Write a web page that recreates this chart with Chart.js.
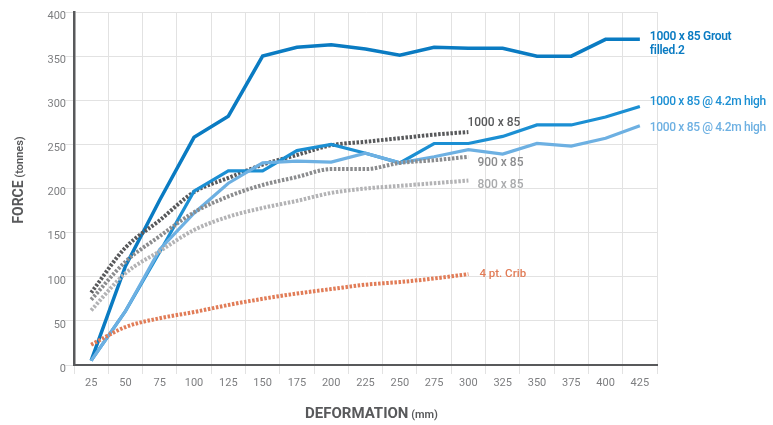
<!DOCTYPE html>
<html>
<head>
<meta charset="utf-8">
<script src="https://cdn.jsdelivr.net/npm/chart.js@4.4.1/dist/chart.umd.min.js"></script>
<style>
  html, body { margin: 0; padding: 0; background: #ffffff; }
  #wrap { width: 773px; height: 425px; }
</style>
</head>
<body>
<div id="wrap"><canvas id="c" width="773" height="425"></canvas></div>
<script>
// ---- data ----
const categories = [25, 50, 75, 100, 125, 150, 175, 200, 225, 250, 275, 300, 325, 350, 375, 400, 425];
const groutFilled = [5, 112, 187, 258, 282, 350, 360, 363, 358, 351, 360, 359, 359, 350, 350, 369, 369];
const high42a = [5, 61, 128, 197, 220, 220, 243, 250, 240, 229, 251, 251, 259, 272, 272, 281, 293];
const high42b = [5, 61, 131, 172, 206, 229, 231, 230, 240, 229, 236, 244, 239, 251, 248, 257, 271];
const d1000x85 = [82, 133, 164, 196, 212, 227, 238, 249, 253, 257, 261, 264];
const d900x85 = [74, 117, 146, 173, 191, 204, 213, 222, 222, 229, 232, 236];
const d800x85 = [62, 104, 129, 153, 168, 178, 186, 195, 200, 203, 206, 209];
const crib4pt = [23, 43, 53, 60, 68, 75, 81, 86, 91, 94, 98, 103];
const yTicks = [0, 50, 100, 150, 200, 250, 300, 350, 400];

const seriesLabels = {
  grout: ["1000 x 85 Grout", "filled.2"],
  highA: ["1000 x 85 @ 4.2m high"],
  highB: ["1000 x 85 @ 4.2m high"],
  d1000: ["1000 x 85"],
  d900: ["900 x 85"],
  d800: ["800 x 85"],
  crib: ["4 pt. Crib"]
};

const FONT = "Roboto, 'Liberation Sans', sans-serif";

const dotted = (data, color, name) => ({
  label: name, data, borderColor: color, backgroundColor: color,
  borderWidth: 4, borderDash: [2.5, 1.6], borderCapStyle: 'butt',
  pointRadius: 0, cubicInterpolationMode: 'monotone', fill: false
});
const solid = (data, color, name, w) => ({
  label: name, data, borderColor: color, backgroundColor: color,
  borderWidth: w, tension: 0, pointRadius: 0, fill: false,
  borderJoinStyle: 'miter', borderCapStyle: 'butt'
});

const datasets = [
  dotted(crib4pt, '#e17c57', 'crib'),
  dotted(d800x85, '#b3b3b5', 'd800'),
  dotted(d900x85, '#8b8c8e', 'd900'),
  solid(high42b, '#6db0e2', 'highB', 3.2),
  solid(high42a, '#1b8fd3', 'highA', 3.2),
  dotted(d1000x85, '#58595b', 'd1000'),
  solid(groutFilled, '#0a7bc2', 'grout', 3.5)
];

const labelSpecs = {
  grout: { dx: 10, dy: -2, color: '#0a7bc2', font: "600 12px " + FONT, ls: '-0.3px' },
  highA: { dx: 10, dy: -4, color: '#1b8fd3', font: "500 12px " + FONT, ls: '-0.35px' },
  highB: { dx: 10, dy: 2, color: '#6db0e2', font: "500 12px " + FONT, ls: '-0.35px' },
  d1000: { dx: -1, dy: -9, color: '#58595b', font: "500 12px " + FONT, ls: '0px' },
  d900: { dx: 9, dy: 6, color: '#8b8c8e', font: "500 12px " + FONT, ls: '0px' },
  d800: { dx: 9, dy: 4, color: '#a9aaac', font: "500 12px " + FONT, ls: '0px' },
  crib: { dx: 11, dy: 0, color: '#e17c57', font: "500 11.5px " + FONT, ls: '0px' }
};

const annotPlugin = {
  id: 'annot',
  afterDatasetsDraw(chart) {
    const ctx = chart.ctx;
    ctx.save();
    chart.data.datasets.forEach((ds, i) => {
      const spec = labelSpecs[ds.label];
      const meta = chart.getDatasetMeta(i);
      const last = meta.data[meta.data.length - 1];
      ctx.font = spec.font;
      ctx.fillStyle = spec.color;
      ctx.textAlign = 'left';
      ctx.textBaseline = 'middle';
      if ('letterSpacing' in ctx) ctx.letterSpacing = spec.ls;
      seriesLabels[ds.label].forEach((t, k) => {
        ctx.fillText(t, last.x + spec.dx, last.y + spec.dy + k * 14);
      });
    });
    if ('letterSpacing' in ctx) ctx.letterSpacing = '0px';
    // axis titles
    const ca = chart.chartArea;
    ctx.fillStyle = '#58595b';
    ctx.textBaseline = 'middle';
    // x title
    const xa = "DEFORMATION", xb = " (mm)";
    ctx.font = "bold 15px " + FONT;
    const wa = ctx.measureText(xa).width;
    ctx.font = "600 11px " + FONT;
    const wb = ctx.measureText(xb).width;
    let x0 = (ca.left + ca.right) / 2 + 6 - (wa + wb) / 2;
    ctx.textAlign = 'left';
    ctx.font = "bold 15px " + FONT;
    ctx.fillText(xa, x0, 414);
    ctx.font = "600 11px " + FONT;
    ctx.fillText(xb, x0 + wa, 415);
    // y title
    const ya = "FORCE", yb = " (tonnes)";
    ctx.save();
    ctx.translate(19, 180);
    ctx.rotate(-Math.PI / 2);
    ctx.font = "bold 14px " + FONT;
    const wya = ctx.measureText(ya).width;
    ctx.font = "600 11px " + FONT;
    const wyb = ctx.measureText(yb).width;
    const y0 = -(wya + wyb) / 2;
    ctx.font = "bold 14px " + FONT;
    ctx.fillText(ya, y0, 0);
    ctx.font = "600 11px " + FONT;
    ctx.fillText(yb, y0 + wya, 1);
    ctx.restore();
    ctx.restore();
  }
};

new Chart(document.getElementById('c'), {
  type: 'line',
  data: { labels: categories, datasets },
  options: {
    responsive: false,
    animation: false,
    devicePixelRatio: 1,
    layout: { padding: { top: 12, right: 116, left: 0, bottom: 0 } },
    plugins: { legend: { display: false }, tooltip: { enabled: false } },
    scales: {
      x: {
        type: 'category',
        offset: true,
        grid: { offset: true, color: '#e2e2e2', lineWidth: 1, tickLength: 9, drawTicks: true, tickColor: '#e2e2e2' },
        border: { color: '#58595b', width: 2 },
        ticks: { color: '#7d7e80', font: { family: FONT, size: 11 }, padding: 3, maxRotation: 0, autoSkip: false },
        afterFit(scale) { scale.height = 60; }
      },
      y: {
        min: 0, max: 400,
        afterBuildTicks(scale) { scale.ticks = yTicks.map(v => ({ value: v })); },
        grid: { color: '#e2e2e2', lineWidth: 1, tickLength: 9, tickColor: '#e2e2e2' },
        border: { color: '#58595b', width: 2.5 },
        ticks: { color: '#7d7e80', font: { family: FONT, size: 11 }, padding: -1, labelOffset: 4 },
        afterFit(scale) { scale.width = 74; }
      }
    }
  },
  plugins: [annotPlugin]
});
</script>
</body>
</html>
